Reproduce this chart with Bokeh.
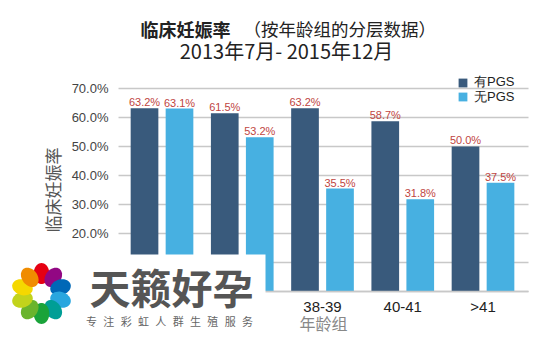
import numpy as np
from bokeh.plotting import figure
from bokeh.models import (Range1d, FixedTicker, NumeralTickFormatter, Label, LinearAxis,
                          BoxAnnotation, PolyAnnotation, Legend, LegendItem, ColumnDataSource)
from bokeh.core.properties import value
from bokeh.embed import file_html
from bokeh.resources import INLINE

# ---- data ----
age_groups = ["<35", "35-37", "38-39", "40-41", ">41"]
with_pgs = [63.2, 61.5, 63.2, 58.7, 50.0]
without_pgs = [63.1, 53.2, 35.5, 31.8, 37.5]
y_ticks = [0, 10, 20, 30, 40, 50, 60, 70]
series_names = ["有PGS", "无PGS"]
title_bold = "临床妊娠率"
title_rest = "（按年龄组的分层数据）"
subtitle = "2013年7月- 2015年12月"
y_label = "临床妊娠率"
x_label = "年龄组"
wm_title = "天籁好孕"
wm_slogan = "专注彩虹人群生殖服务"
petal_colors = ["#e50012", "#920783", "#0068b7", "#29a6df", "#009e96",
                "#1aa33a", "#6ab42d", "#c2d31c", "#f5d800", "#f08c00"]

# ---- layout / style ----
W, H = 550, 339
DARK, LIGHT = "#395a7c", "#47b0e1"
NUM_FONT = "Liberation Sans"
CJK_FONT = "Noto Sans CJK SC"
# scales: group index -> pixels, fraction -> pixels
X_START, X_END = -2.0125, 4.841
Y_START, Y_END = -0.1655, 1.0034
AX_X0, AX_X1 = -0.542, 4.567          # extent of plotting area (axis/grid bounds)
OFF, BW = 0.218, 0.345                 # dodge offset and bar width (group units)

def sy(cy):                            # screen y measured from canvas top
    return H - cy

idx = list(range(len(age_groups)))
src = ColumnDataSource(dict(
    xa=[i - OFF for i in idx], xb=[i + OFF for i in idx],
    a=[v / 100 for v in with_pgs], b=[v / 100 for v in without_pgs],
    la=[f"{v:.1f}%" for v in with_pgs], lb=[f"{v:.1f}%" for v in without_pgs],
))

p = figure(width=W, height=H, x_range=Range1d(X_START, X_END), y_range=Range1d(Y_START, Y_END),
           x_axis_type=None, y_axis_type=None,
           output_backend="svg", toolbar_location=None,
           min_border_left=0, min_border_right=0, min_border_top=0, min_border_bottom=0)
p.outline_line_color = None
p.background_fill_color = "white"
p.border_fill_color = "white"

# gridlines
tick_vals = [t / 100 for t in y_ticks]
p.segment(x0=[AX_X0] * len(tick_vals), x1=[AX_X1] * len(tick_vals), y0=tick_vals, y1=tick_vals,
          line_color="#c8c8c8", line_width=1.5, level="underlay")

# bars
r1 = p.vbar(x="xa", top="a", width=BW, source=src, fill_color=DARK, line_color=None)
r2 = p.vbar(x="xb", top="b", width=BW, source=src, fill_color=LIGHT, line_color=None)

for xc, col, lab in (("xa", "a", "la"), ("xb", "b", "lb")):
    p.text(x=xc, y=col, text=lab, source=src,
           text_align="center", text_baseline="alphabetic", y_offset=-6,
           text_font=value(NUM_FONT), text_font_size="11px", text_color="#c0453f")

# y axis
yaxis = LinearAxis(fixed_location=AX_X0, bounds=(0, 0.7),
                   ticker=FixedTicker(ticks=tick_vals),
                   formatter=NumeralTickFormatter(format="0.0%"))
yaxis.axis_line_color = None
yaxis.major_tick_line_color = None
yaxis.minor_tick_line_color = None
yaxis.major_tick_out = 0
yaxis.major_tick_in = 0
yaxis.minor_tick_out = 0
yaxis.major_label_standoff = 10
yaxis.major_label_text_font = NUM_FONT
yaxis.major_label_text_font_size = "13px"
yaxis.major_label_text_color = "#444444"
yaxis.axis_label = y_label
yaxis.axis_label_text_font = CJK_FONT
yaxis.axis_label_text_font_style = "normal"
yaxis.axis_label_text_font_size = "17px"
yaxis.axis_label_text_color = "#555555"
yaxis.axis_label_standoff = 4
p.add_layout(yaxis, "left")

# x axis
xaxis = LinearAxis(fixed_location=0, bounds=(AX_X0, AX_X1),
                   ticker=FixedTicker(ticks=idx),
                   major_label_overrides={i: g for i, g in zip(idx, age_groups)})
xaxis.axis_line_color = "#c8c8c8"
xaxis.axis_line_width = 1.5
xaxis.major_tick_line_color = None
xaxis.minor_tick_line_color = None
xaxis.major_tick_out = 0
xaxis.major_tick_in = 0
xaxis.minor_tick_out = 0
xaxis.major_label_standoff = 6
xaxis.major_label_text_font = NUM_FONT
xaxis.major_label_text_font_size = "15px"
xaxis.major_label_text_color = "#222222"
xaxis.axis_label = x_label
xaxis.axis_label_text_font = CJK_FONT
xaxis.axis_label_text_font_style = "normal"
xaxis.axis_label_text_font_size = "16px"
xaxis.axis_label_text_color = "#888888"
xaxis.axis_label_standoff = -7
p.add_layout(xaxis, "below")

# legend: one entry per legend so each row can be placed like the reference
for name, rend, bottom in ((series_names[0], r1, 91), (series_names[1], r2, 105.5)):
    p.add_layout(Legend(items=[LegendItem(label=name, renderers=[rend])],
                        location=(457, sy(bottom)), orientation="vertical",
                        border_line_color=None, background_fill_alpha=0,
                        padding=0, margin=0, spacing=0,
                        glyph_width=11, glyph_height=11, label_height=15, label_standoff=6,
                        label_text_font=NUM_FONT, label_text_font_size="13px",
                        label_text_color="#222222"))

# titles
p.add_layout(Label(x=140, y=sy(28), x_units="screen", y_units="screen", text=title_bold,
                   text_font=CJK_FONT, text_font_style="bold", text_font_size="18px",
                   text_color="#222222", text_align="left", text_baseline="middle"))
p.add_layout(Label(x=243, y=sy(28), x_units="screen", y_units="screen", text=title_rest,
                   text_font=CJK_FONT, text_font_size="17.5px",
                   text_color="#222222", text_align="left", text_baseline="middle"))
p.add_layout(Label(x=286, y=sy(50), x_units="screen", y_units="screen", text=subtitle,
                   text_font=CJK_FONT, text_font_size="20px",
                   text_color="#222222", text_align="center", text_baseline="middle"))

# watermark
p.add_layout(BoxAnnotation(left=0, right=265, top=sy(254), bottom=sy(339),
                           left_units="screen", right_units="screen",
                           top_units="screen", bottom_units="screen",
                           fill_color="white", fill_alpha=1.0, line_color=None,
                           level="overlay"))
cx0, cy0 = 41, 293
t = np.linspace(0, 2 * np.pi, 40)
for i, c in enumerate(petal_colors):
    th = np.deg2rad(90 - 36 * i)
    ux, uy = np.cos(th), -np.sin(th)
    vx, vy = -uy, ux
    px = cx0 + 20 * ux + 10.5 * np.cos(t) * ux + 7.8 * np.sin(t) * vx
    py = cy0 + 20 * uy + 10.5 * np.cos(t) * uy + 7.8 * np.sin(t) * vy
    p.add_layout(PolyAnnotation(xs=list(px), ys=[sy(v) for v in py],
                                xs_units="screen", ys_units="screen",
                                fill_color=c, fill_alpha=1.0, line_color=None,
                                level="overlay"))
p.add_layout(Label(x=171, y=sy(285), x_units="screen", y_units="screen", text=wm_title,
                   text_font=CJK_FONT, text_font_style="bold", text_font_size="41px",
                   text_color="#555555", text_align="center", text_baseline="middle",
                   level="overlay"))
for ch, cx in zip(wm_slogan, np.linspace(91, 247, len(wm_slogan))):
    p.add_layout(Label(x=float(cx), y=sy(320), x_units="screen", y_units="screen", text=ch,
                       text_font=CJK_FONT, text_font_size="11px",
                       text_color="#666666", text_align="center", text_baseline="middle",
                       level="overlay"))

open("out.html", "w").write(file_html(p, INLINE))
